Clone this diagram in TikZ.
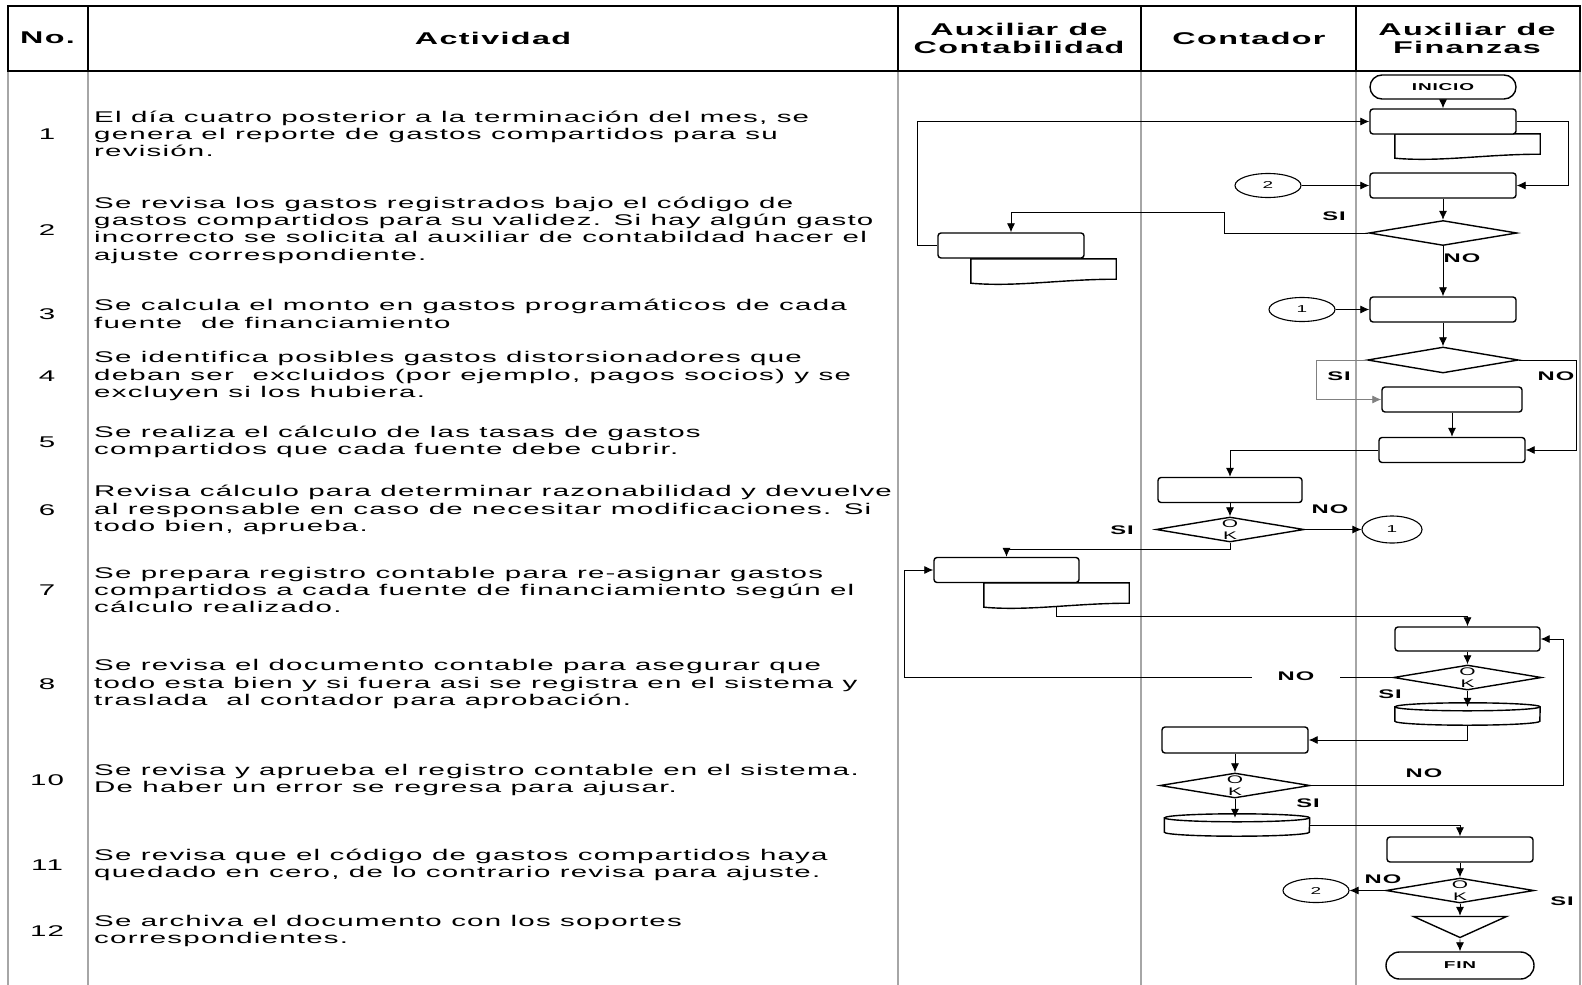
\documentclass[tikz,border=0pt]{standalone}
\usepackage{fontspec}
\setmainfont{Liberation Sans}[FakeStretch=1.9,LetterSpace=8]
\usetikzlibrary{shapes.geometric, shapes.misc, arrows.meta, positioning, calc}

\begin{document}
\begin{tikzpicture}[x=1pt, y=-1pt,
    proc/.style={rectangle, draw, rounded corners=3pt, line width=1.4pt, fill=white, minimum width=146pt, minimum height=25pt, inner sep=0pt},
    docbox/.style={rectangle, minimum width=145pt, minimum height=24pt, inner sep=0pt},
    wave/.style={line width=1.4pt, fill=white},
    dec/.style={diamond, draw, line width=1.4pt, fill=white, minimum width=148pt, minimum height=25pt, inner sep=0pt},
    term/.style={rounded rectangle, draw, line width=1.4pt, minimum width=146pt, minimum height=24pt, inner sep=0pt, font=\bfseries\fontsize{10}{12}\selectfont},
    conn/.style={ellipse, draw, line width=1.1pt, minimum width=66pt, minimum height=24pt, inner sep=0pt, font=\fontsize{10}{12}\selectfont},
    disk/.style={rectangle, minimum width=145pt, minimum height=22pt, inner sep=0pt},
    merge/.style={isosceles triangle, shape border rotate=270, isosceles triangle stretches, draw, line width=1.4pt, minimum width=93pt, minimum height=21pt, inner sep=0pt},
    line/.style={draw, -{Latex[length=9pt,width=8pt]}, line width=0.8pt},
    lbl/.style={font=\bfseries\fontsize{12.5}{14}\selectfont, inner sep=1pt},
    ok/.style={label={[font=\fontsize{11}{12}\selectfont, align=center]center:O\\K}},
    hdr/.style={line width=2.2pt},
    lane/.style={draw=gray!70, line width=1.3pt},
    num/.style={font=\fontsize{15.5}{17.3}\selectfont},
    act/.style={anchor=west, align=left, inner sep=0pt, font=\fontsize{15.5}{17.3}\selectfont},
    head/.style={align=center, font=\bfseries\fontsize{17}{18}\selectfont}
    ]
    \useasboundingbox (0,0) rectangle (1582,985);

    % table
    \foreach \x in {8,88,898,1141,1356,1580}
        \draw[lane] (\x,71) -- (\x,985);
    \draw[hdr] (8,6) rectangle (1580,71);
    \foreach \x in {88,898,1141,1356}
        \draw[hdr] (\x,6) -- (\x,71);

    \node[head] (hno) at (47.5,38) {No.};
    \node[head] (hact) at (493,38) {Actividad};
    \node[head] (haux) at (1019,38) {Auxiliar de\\Contabilidad};
    \node[head] (hcon) at (1249,38) {Contador};
    \node[head] (hfin) at (1467,38) {Auxiliar de\\Finanzas};

    % activities
    \node[num] (n1) at (47,134) {1};
    \node[act] (a1) at (94,134) {El día cuatro posterior a la terminación del mes, se\\genera el reporte de gastos compartidos para su\\revisión.};
    \node[num] (n2) at (47,230) {2};
    \node[act] (a2) at (94,230) {Se revisa los gastos registrados bajo el código de\\gastos compartidos para su validez. Si hay algún gasto\\incorrecto se solicita al auxiliar de contabildad hacer el\\ajuste correspondiente.};
    \node[num] (n3) at (47,314) {3};
    \node[act] (a3) at (94,314) {Se calcula el monto en gastos programáticos de cada\\fuente~ de financiamiento};
    \node[num] (n4) at (47,376) {4};
    \node[act] (a4) at (94,376) {Se identifica posibles gastos distorsionadores que\\deban ser~ excluidos (por ejemplo, pagos socios) y se\\excluyen si los hubiera.};
    \node[num] (n5) at (47,442) {5};
    \node[act] (a5) at (94,442) {Se realiza el cálculo de las tasas de gastos\\compartidos que cada fuente debe cubrir.};
    \node[num] (n6) at (47,510) {6};
    \node[act] (a6) at (94,510) {Revisa cálculo para determinar razonabilidad y devuelve\\al responsable en caso de necesitar modificaciones. Si\\todo bien, aprueba.};
    \node[num] (n7) at (47,590) {7};
    \node[act] (a7) at (94,590) {Se prepara registro contable para re-asignar gastos\\compartidos a cada fuente de financiamiento según el\\cálculo realizado.};
    \node[num] (n8) at (47,684) {8};
    \node[act] (a8) at (94,684) {Se revisa el documento contable para asegurar que\\todo esta bien y si fuera asi se registra en el sistema y\\traslada~ al contador para aprobación.};
    \node[num] (n10) at (47,780) {10};
    \node[act] (a10) at (94,780) {Se revisa y aprueba el registro contable en el sistema.\\De haber un error se regresa para ajusar.};
    \node[num] (n11) at (47,865) {11};
    \node[act] (a11) at (94,865) {Se revisa que el código de gastos compartidos haya\\quedado en cero, de lo contrario revisa para ajuste.};
    \node[num] (n12) at (47,931) {12};
    \node[act] (a12) at (94,931) {Se archiva el documento con los soportes\\correspondientes.};

    % flow nodes
    \node[term] (ini) at (1443,87) {INICIO};
    \node[docbox] (rep1doc) at (1467.5,146) {};
    \draw[wave] (rep1doc.north west) -- (rep1doc.north east) -- ($(rep1doc.south east)+(0,-4)$) .. controls +(-55,0) and +(45,4) .. (rep1doc.south west) -- cycle;
    \node[proc] (rep1) at (1443,121.5) {};
    \node[proc] (rev1) at (1443,185.5) {};
    \node[conn] (c2) at (1268,185.5) {2};
    \node[dec] (d1) at (1443,233) {};
    \node[docbox] (adjdoc) at (1043.5,271) {};
    \draw[wave] (adjdoc.north west) -- (adjdoc.north east) -- ($(adjdoc.south east)+(0,-4)$) .. controls +(-55,0) and +(45,4) .. (adjdoc.south west) -- cycle;
    \node[proc] (adj) at (1011,245.5) {};
    \node[proc] (calc) at (1443,309.5) {};
    \node[conn] (c1) at (1302,309.5) {1};
    \node[dec, minimum width=151pt, minimum height=26pt] (d2) at (1443,360) {};
    \node[proc, minimum width=140pt] (excl) at (1452,399.5) {};
    \node[proc] (tasa) at (1452,450) {};
    \node[proc, minimum width=144pt] (rvc) at (1230,490) {};
    \node[dec, ok] (ok1) at (1230,529.5) {};
    \node[conn, minimum width=60pt, minimum height=27pt] (c1b) at (1392,529.5) {1};
    \node[docbox] (regdoc) at (1056.5,595) {};
    \draw[wave] (regdoc.north west) -- (regdoc.north east) -- ($(regdoc.south east)+(0,-4)$) .. controls +(-55,0) and +(45,4) .. (regdoc.south west) -- cycle;
    \node[proc, minimum width=145pt] (reg) at (1006.5,570) {};
    \node[proc, minimum width=145pt, minimum height=24pt] (rvd) at (1467.5,639) {};
    \node[dec, ok] (ok2) at (1467.5,677.5) {};
    \node[disk] (sis1) at (1467.5,714) {};
    \draw[wave] ($(sis1.north west)+(0,4)$) -- ($(sis1.south west)+(0,-4)$) arc[start angle=180, end angle=360, x radius=72.5pt, y radius=4pt] -- ($(sis1.north east)+(0,4)$) arc[start angle=0, end angle=180, x radius=72.5pt, y radius=4pt] -- cycle;
    \draw[line width=1.4pt] ($(sis1.north west)+(0,4)$) arc[start angle=180, end angle=360, x radius=72.5pt, y radius=4pt];
    \node[proc, minimum height=26pt] (apr) at (1235,740) {};
    \node[dec, ok, minimum width=150pt] (ok3) at (1235,785.5) {};
    \node[disk] (sis2) at (1237,825) {};
    \draw[wave] ($(sis2.north west)+(0,4)$) -- ($(sis2.south west)+(0,-4)$) arc[start angle=180, end angle=360, x radius=72.5pt, y radius=4pt] -- ($(sis2.north east)+(0,4)$) arc[start angle=0, end angle=180, x radius=72.5pt, y radius=4pt] -- cycle;
    \draw[line width=1.4pt] ($(sis2.north west)+(0,4)$) arc[start angle=180, end angle=360, x radius=72.5pt, y radius=4pt];
    \node[proc] (cero) at (1460,849.5) {};
    \node[dec, ok] (ok4) at (1460,890.5) {};
    \node[conn] (c2b) at (1316,890.5) {2};
    \node[merge] (arch) at (1460,926.5) {};
    \node[term, minimum width=148pt, minimum height=27pt] (fin) at (1460,965.5) {FIN};

    % connectors
    \path[line] (ini) -- (rep1);
    \path[line] (rep1.east) -- ++(52,0) |- (rev1.east);
    \path[line] (c2) -- (rev1);
    \path[line] (rev1) -- (d1);
    \path[line] (d1.west) -- ++(-144,0) -- ++(0,-21) -| (adj.north);
    \path[line] (adj.west) -- ++(-20,0) |- (rep1.west);
    \path[line] (d1) -- (calc);
    \path[line] (c1) -- (calc);
    \path[line] (calc) -- (d2);
    \path[line, draw=gray] (d2.west) -- ++(-50,0) |- (excl.west);
    \path[line] (d2.east) -- ++(57,0) |- (tasa.east);
    \path[line] (excl) -- (tasa);
    \path[line] (tasa.west) -| (rvc.north);
    \path[line] (rvc) -- (ok1);
    \path[line] (ok1) -- (c1b);
    \path[line] (ok1.south) -- ++(0,7) -| (reg.north);
    \path[line] (regdoc.south) -- ++(0,9) -| (rvd.north);
    \path[line] (rvd) -- (ok2);
    \path[line] (ok2.west) -- ++(-488,0) |- (reg.west);
    \path[line] (ok2) -- ($(sis1.north)+(0,4)$);
    \path[line] (sis1.south) |- (apr.east);
    \path[line] (apr) -- (ok3);
    \path[line] (ok3.east) -- ++(253,0) |- (rvd.east);
    \path[line] (ok3.south) -- ($(sis2.north)+(-2,4)$);
    \path[line] (sis2.east) -| (cero.north);
    \path[line] (cero) -- (ok4);
    \path[line] (ok4) -- (c2b);
    \path[line] (ok4) -- (arch);
    \path[line] (arch.apex) -- (fin);

    % labels
    \node[lbl] (s1) at (1334,216) {SI};
    \node[lbl] (m1) at (1462,258) {NO};
    \node[lbl] (s2) at (1339,376) {SI};
    \node[lbl] (m2) at (1556,376) {NO};
    \node[lbl] (m3) at (1330,509) {NO};
    \node[lbl] (s3) at (1122,530) {SI};
    \node[lbl, fill=white, minimum width=88pt] (m4) at (1296,676) {NO};
    \node[lbl] (s4) at (1390,694) {SI};
    \node[lbl] (m5) at (1424,773) {NO};
    \node[lbl] (s5) at (1308,803) {SI};
    \node[lbl] (m6) at (1383,879) {NO};
    \node[lbl] (s6) at (1562,901) {SI};
\end{tikzpicture}
\end{document}
